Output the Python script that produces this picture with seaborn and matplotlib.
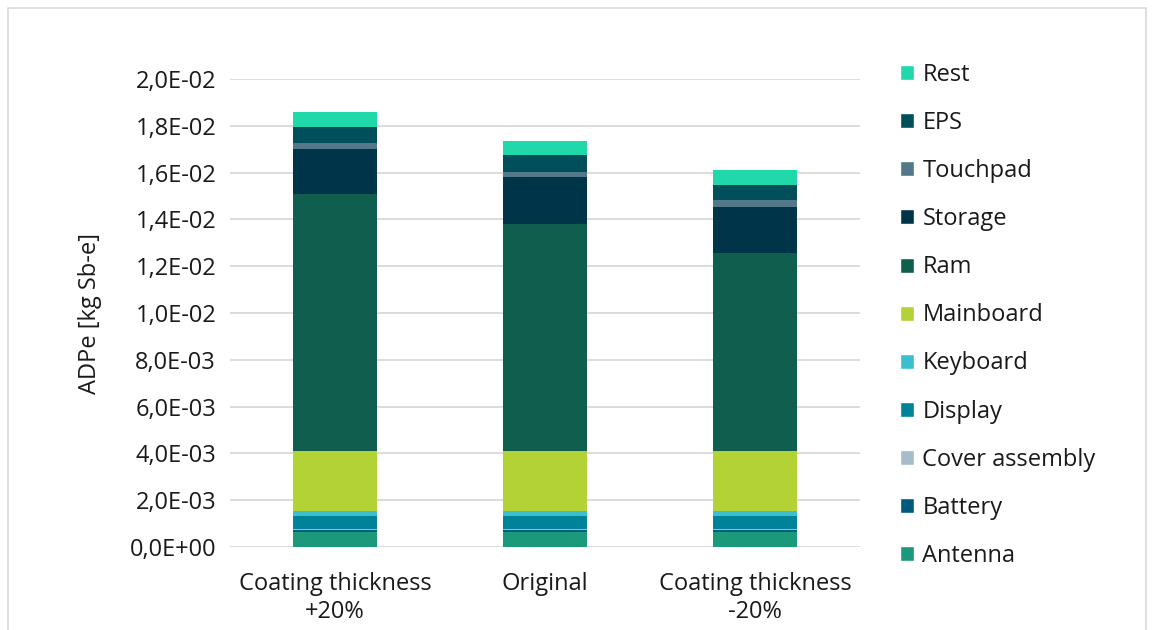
import matplotlib.pyplot as plt
import pandas as pd
import seaborn as sns
from matplotlib.patches import Patch, Rectangle
from matplotlib.ticker import FuncFormatter

# data (kg Sb-e), bottom to top
scenarios = ['Coating thickness\n+20%', 'Original', 'Coating thickness\n-20%']
components = ['Antenna', 'Battery', 'Cover assembly', 'Display', 'Keyboard',
              'Mainboard', 'Ram', 'Storage', 'Touchpad', 'EPS', 'Rest']
antenna = [6.3e-4, 6.3e-4, 6.3e-4]
battery = [1.0e-4, 1.0e-4, 1.0e-4]
cover_assembly = [5.0e-5, 5.0e-5, 5.0e-5]
display = [5.4e-4, 5.4e-4, 5.4e-4]
keyboard = [2.1e-4, 2.1e-4, 2.1e-4]
mainboard = [2.59e-3, 2.59e-3, 2.59e-3]
ram = [1.095e-2, 9.70e-3, 8.45e-3]
storage = [1.94e-3, 1.98e-3, 1.95e-3]
touchpad = [2.7e-4, 2.4e-4, 2.9e-4]
eps = [6.8e-4, 7.0e-4, 6.8e-4]
rest = [6.3e-4, 6.3e-4, 6.3e-4]

colors = {
    'Antenna': '#1A9A7A', 'Battery': '#005A7D', 'Cover assembly': '#A5BCC9',
    'Display': '#008299', 'Keyboard': '#3BBFCF', 'Mainboard': '#B3D236',
    'Ram': '#0F5E4E', 'Storage': '#003549', 'Touchpad': '#52788A',
    'EPS': '#004F5A', 'Rest': '#21D8AB',
}

df = pd.DataFrame({
    'Antenna': antenna, 'Battery': battery, 'Cover assembly': cover_assembly,
    'Display': display, 'Keyboard': keyboard, 'Mainboard': mainboard,
    'Ram': ram, 'Storage': storage, 'Touchpad': touchpad, 'EPS': eps,
    'Rest': rest,
}, index=scenarios)
cum = df[components].cumsum(axis=1)

sns.set_style('white')
plt.rcParams['font.family'] = ['Open Sans', 'DejaVu Sans']
text_color = '#1a1a1a'
fs = 17

fig = plt.figure(figsize=(11.54, 6.30), dpi=100)
ax = fig.add_axes([230 / 1154, 1 - 547 / 630, 630 / 1154, 468 / 630])

# stacked bars: draw cumulative totals from the top layer down
for comp in reversed(components):
    sns.barplot(x=scenarios, y=cum[comp].values, color=colors[comp],
                saturation=1, width=0.4, linewidth=0, ax=ax, zorder=3)

ax.set_xlim(-0.5, 2.5)
ax.set_ylim(0, 0.02)
ax.set_yticks([i * 0.002 for i in range(11)])
ax.yaxis.set_major_formatter(FuncFormatter(
    lambda v, p: ('%.1E' % v).replace('.', ',')))
ax.grid(True, axis='y', color='#D9D9D9', linewidth=1.3, zorder=0)
ax.grid(False, axis='x')
for s in ax.spines.values():
    s.set_visible(False)
ax.tick_params(axis='both', length=0, labelsize=fs, colors=text_color)
ax.tick_params(axis='y', pad=10)
ax.tick_params(axis='x', pad=18)
ax.set_ylabel('ADPe [kg Sb-e]', fontsize=fs, color=text_color, labelpad=20)
ax.set_xlabel('')

handles = [Patch(facecolor=colors[c], label=c) for c in reversed(components)]
fig.legend(handles=handles, loc='upper left', bbox_to_anchor=(900 / 1154, 1 - 63 / 630),
           frameon=False, fontsize=fs, labelspacing=1.02, handlelength=0.6,
           handleheight=0.6, handletextpad=0.35, labelcolor=text_color,
           borderaxespad=0, borderpad=0)

fig.patches.append(Rectangle((8 / 1154, -0.1), 1138 / 1154, 1.1 - 8 / 630,
                             transform=fig.transFigure, fill=False,
                             edgecolor='#D9D9D9', linewidth=1.2))

fig.savefig('out.png', dpi=100)
